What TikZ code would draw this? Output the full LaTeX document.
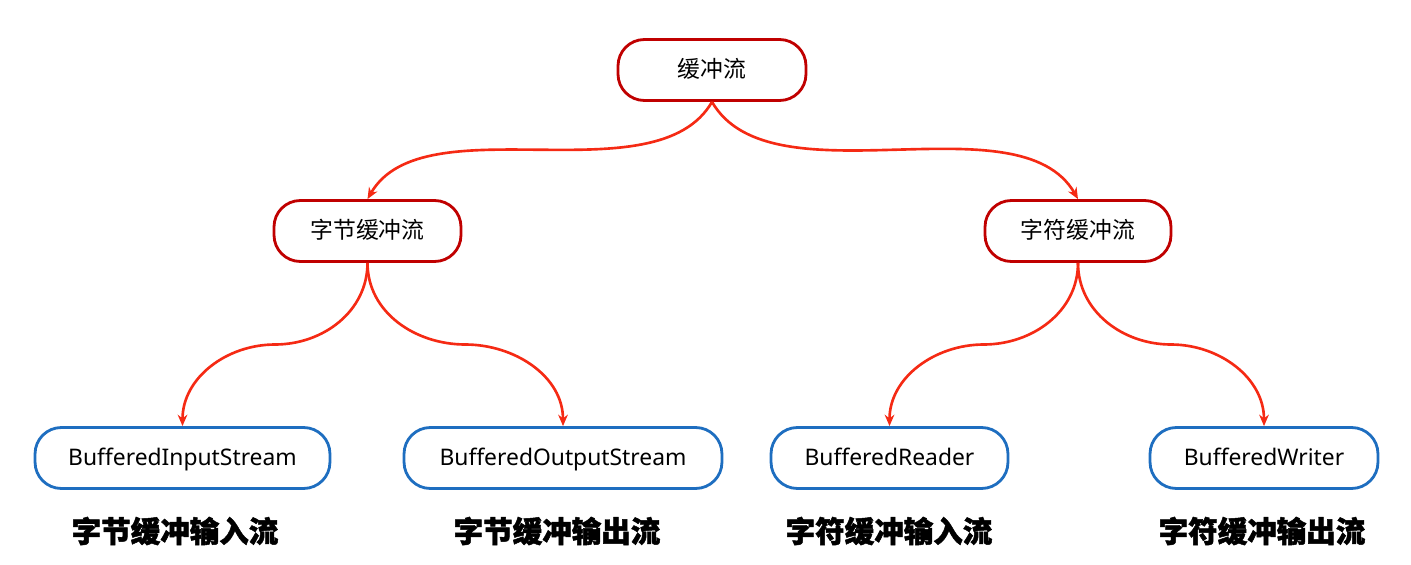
\documentclass[tikz,border=0pt]{standalone}
\usepackage{fontspec}
\usetikzlibrary{arrows.meta,calc}
\setmainfont{Noto Sans}
\newfontfamily\cjk{Noto Sans CJK SC}
\newfontfamily\cjkheavy{Noto Sans CJK SC}[UprightFont=* Black, FakeBold=1.6]
\definecolor{boxred}{HTML}{C00000}
\definecolor{boxblue}{HTML}{1E6EC0}
\definecolor{arrred}{HTML}{F52A14}
\tikzset{
  redbox/.style={draw=boxred, line width=1.6pt, rounded corners=15pt, fill=white,
    minimum height=1.22cm, inner sep=2pt, text height=2ex, text depth=0.5ex,
    font=\cjk\fontsize{13}{15}\selectfont},
  bluebox/.style={draw=boxblue, line width=1.6pt, rounded corners=15pt, fill=white,
    minimum height=1.22cm, inner sep=2pt, text height=2ex, text depth=0.5ex,
    font=\fontsize{13}{15}\selectfont},
  tag/.style={font=\cjkheavy\fontsize{16.8}{18}\selectfont, inner sep=0pt},
  flow/.style={draw=arrred, line width=1.5pt, -{Stealth[length=6.5pt,width=5.5pt]}}
}
\begin{document}
\begin{tikzpicture}[x=0.02cm, y=-0.02cm]
  \useasboundingbox (0,0) rectangle (1411,565);
  % top level
  \node[redbox, minimum width=3.76cm] (root) at (712,70) {缓冲流};
  \node[redbox, minimum width=3.74cm] (byte) at (367.5,231) {字节缓冲流};
  \node[redbox, minimum width=3.72cm] (char) at (1078,231) {字符缓冲流};
  % stream classes
  \node[bluebox, minimum width=5.90cm] (bis) at (182.5,458) {BufferedInputStream};
  \node[bluebox, minimum width=6.36cm] (bos) at (563,458) {BufferedOutputStream};
  \node[bluebox, minimum width=4.74cm] (br)  at (889.5,458) {BufferedReader};
  \node[bluebox, minimum width=4.56cm] (bw)  at (1264,458) {BufferedWriter};
  % captions
  \node[tag] (tbis) at (175,531) {字节缓冲输入流};
  \node[tag] (tbos) at (557,531) {字节缓冲输出流};
  \node[tag] (tbr)  at (889,531) {字符缓冲输入流};
  \node[tag] (tbw)  at (1262,531) {字符缓冲输出流};
  % connectors
  \foreach \c/\o/\i in {byte/-120/60, char/-60/120}{
    \draw[flow] (root.south) to[out=\o, in=\i, looseness=0.8] (\c.north);
  }
  \foreach \p/\c/\i/\o in {byte/bis/0/180, byte/bos/180/0, char/br/0/180, char/bw/180/0}{
    \draw[flow] (\p.south) to[out=-90, in=\i] ($(\p.south)!.5!(\c.north)$)
                           to[out=\o, in=90] (\c.north);
  }
\end{tikzpicture}
\end{document}
